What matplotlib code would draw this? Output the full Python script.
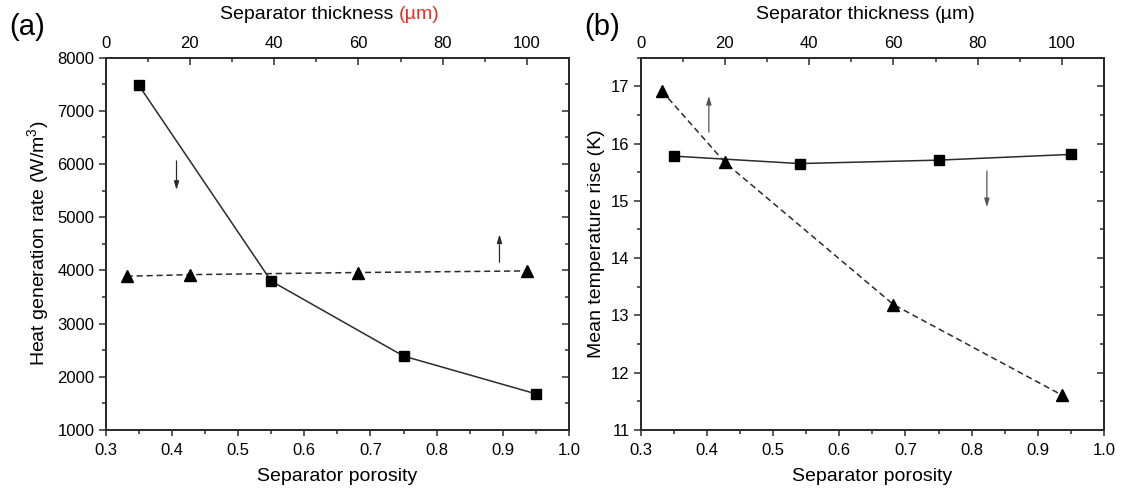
import matplotlib

matplotlib.use("Agg")
import matplotlib.pyplot as plt
from matplotlib.ticker import MultipleLocator

plt.rcParams["font.family"] = ["Liberation Sans", "DejaVu Sans"]
plt.rcParams["mathtext.fontset"] = "custom"
plt.rcParams["mathtext.rm"] = "Liberation Sans"
plt.rcParams["mathtext.it"] = "Liberation Sans:italic"

# panel (a): heat generation rate
porosity_a = [0.35, 0.55, 0.75, 0.95]
heat_rate = [7480, 3800, 2390, 1680]
thickness_a = [5, 20, 60, 100]
heat_rate_thk = [3890, 3920, 3960, 3990]

# panel (b): mean temperature rise
porosity_b = [0.35, 0.54, 0.75, 0.95]
temp_rise = [15.78, 15.65, 15.71, 15.81]
thickness_b = [5, 20, 60, 100]
temp_rise_thk = [16.92, 15.67, 13.19, 11.61]

LINE = "#2b2b2b"
FS_TICK = 12
FS_LABEL = 14
ARROW = "-|>,head_length=0.5,head_width=0.15"


def style_axes(ax, top, ylim, ymajor, yminor):
    ax.set_xlim(0.3, 1.0)
    ax.set_ylim(*ylim)
    ax.xaxis.set_major_locator(MultipleLocator(0.1))
    ax.xaxis.set_minor_locator(MultipleLocator(0.05))
    ax.yaxis.set_major_locator(MultipleLocator(ymajor))
    ax.yaxis.set_minor_locator(MultipleLocator(yminor))
    ax.tick_params(which="both", direction="out", top=False, right=False,
                   labelsize=FS_TICK, color=LINE, width=1.1)
    ax.tick_params(axis="x", which="major", length=4.5, pad=5)
    ax.tick_params(axis="x", which="minor", length=3)
    ax.tick_params(axis="y", which="major", length=5, pad=3)
    ax.tick_params(axis="y", which="minor", length=3)

    top.set_xlim(0, 110)
    top.xaxis.set_major_locator(MultipleLocator(20))
    top.xaxis.set_minor_locator(MultipleLocator(10))
    top.tick_params(axis="x", which="both", direction="in", labelsize=FS_TICK,
                    color=LINE, width=1.1, pad=5)
    top.tick_params(axis="x", which="major", length=5)
    top.tick_params(axis="x", which="minor", length=3)

    right = ax.secondary_yaxis("right")
    right.yaxis.set_major_locator(MultipleLocator(ymajor))
    right.yaxis.set_minor_locator(MultipleLocator(yminor))
    right.tick_params(which="both", direction="in", labelright=False,
                      color=LINE, width=1.1)
    right.tick_params(which="major", length=5)
    right.tick_params(which="minor", length=3)
    right.spines["right"].set_linewidth(1.3)
    right.spines["right"].set_color(LINE)

    for axis in (ax, top):
        for sp in axis.spines.values():
            sp.set_linewidth(1.3)
            sp.set_color(LINE)

    ax.set_xlabel("Separator porosity", fontsize=FS_LABEL, labelpad=7)


def top_title(top, xfrac, unit_color):
    t = top.text(xfrac, 1.1165, "Separator thickness", transform=top.transAxes,
                 ha="center", va="center", fontsize=FS_LABEL)
    top.annotate("(µm)", xy=(1, 0), xycoords=t, xytext=(4, 0),
                 textcoords="offset points", ha="left", va="bottom",
                 fontsize=FS_LABEL, color=unit_color)


fig = plt.figure(figsize=(11.22, 4.92), dpi=100)

# (a)
ax1 = fig.add_axes([0.0942, 0.126, 0.4129, 0.757])
top1 = ax1.twiny()
style_axes(ax1, top1, (1000, 8000), 1000, 500)
ax1.plot(porosity_a, heat_rate, color=LINE, lw=1.1, marker="s", ms=6.5,
         mfc="black", mec="black")
top1.plot(thickness_a, heat_rate_thk, color=LINE, lw=1.1, ls=(0, (4, 2.5)),
          marker="^", ms=8, mfc="black", mec="black")
ax1.set_ylabel("Heat generation rate (W/m$^3$)", fontsize=FS_LABEL, labelpad=5)
top_title(top1, 0.4345, "#e8302a")
ax1.annotate("", xy=(0.407, 5460), xytext=(0.407, 6110),
             arrowprops=dict(arrowstyle=ARROW, color=LINE, lw=0.9))
ax1.annotate("", xy=(0.895, 4730), xytext=(0.895, 4100),
             arrowprops=dict(arrowstyle=ARROW, color=LINE, lw=0.9))
fig.text(0.024, 0.945, "(a)", fontsize=21, ha="center", va="center")

# (b)
ax2 = fig.add_axes([0.571, 0.126, 0.413, 0.757])
top2 = ax2.twiny()
style_axes(ax2, top2, (11, 17.5), 1, 0.5)
ax2.plot(porosity_b, temp_rise, color=LINE, lw=1.1, marker="s", ms=6.5,
         mfc="black", mec="black")
top2.plot(thickness_b, temp_rise_thk, color=LINE, lw=1.1, ls=(0, (4, 2.5)),
          marker="^", ms=8, mfc="black", mec="black")
ax2.set_ylabel("Mean temperature rise (K)", fontsize=FS_LABEL, labelpad=4)
top_title(top2, 0.436, "black")
ax2.annotate("", xy=(0.403, 16.88), xytext=(0.403, 16.15),
             arrowprops=dict(arrowstyle=ARROW, color="#555555", lw=0.9))
ax2.annotate("", xy=(0.823, 14.84), xytext=(0.823, 15.57),
             arrowprops=dict(arrowstyle=ARROW, color="#555555", lw=0.9))
fig.text(0.537, 0.945, "(b)", fontsize=21, ha="center", va="center")

fig.savefig("out.png", dpi=100)
